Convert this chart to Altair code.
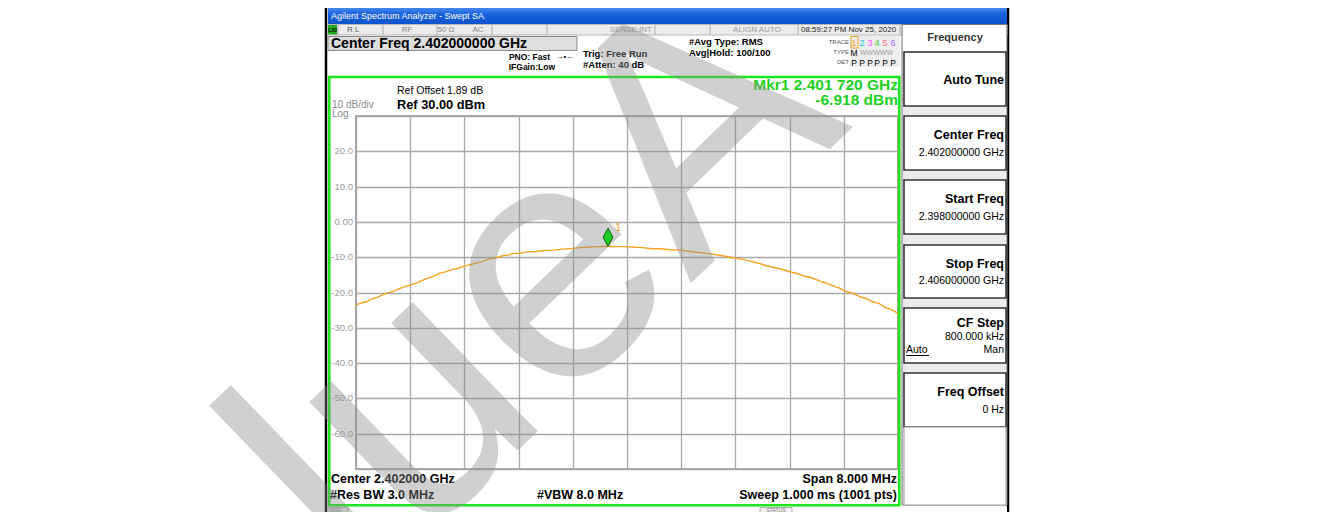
import altair as alt
import pandas as pd

FONT = "Liberation Sans"

# ---------------- data ----------------
freq_ghz = [2.39800, 2.39808, 2.39815, 2.39823, 2.39831, 2.39843, 2.39855, 2.39868, 2.39880, 2.39891,
            2.39902, 2.39913, 2.39924, 2.39933, 2.39942, 2.39950, 2.39959, 2.39971, 2.39983, 2.39995,
            2.40008, 2.40016, 2.40024, 2.40032, 2.40041, 2.40053, 2.40066, 2.40078, 2.40091, 2.40105,
            2.40120, 2.40132, 2.40145, 2.40158, 2.40172, 2.40186, 2.40200, 2.40212, 2.40224, 2.40236,
            2.40249, 2.40264, 2.40280, 2.40294, 2.40308, 2.40320, 2.40333, 2.40347, 2.40361, 2.40372,
            2.40382, 2.40394, 2.40407, 2.40424, 2.40442, 2.40452, 2.40463, 2.40474, 2.40485, 2.40494,
            2.40504, 2.40513, 2.40522, 2.40533, 2.40544, 2.40553, 2.40563, 2.40572, 2.40581, 2.40590,
            2.40600]
level_dbm = [-23.6, -22.9, -22.7, -21.8, -21.4, -20.3, -19.7, -18.6, -17.9, -17.2,
             -16.2, -15.5, -14.5, -14.1, -13.5, -13.2, -12.6, -12.0, -11.4, -10.6,
             -10.1, -9.6, -9.4, -9.0, -8.9, -8.5, -8.4, -8.1, -8.0, -7.7,
             -7.5, -7.3, -7.1, -7.0, -6.9, -7.0, -7.0, -7.2, -7.3, -7.6,
             -7.6, -7.9, -8.0, -8.4, -8.7, -9.0, -9.3, -9.8, -10.3, -10.6,
             -11.1, -11.7, -12.5, -13.2, -14.2, -14.7, -15.4, -15.9, -16.8, -17.3,
             -18.1, -18.7, -19.6, -20.2, -21.2, -21.7, -22.7, -23.1, -24.2, -24.8,
             -25.9]
marker_freq_ghz = [2.40172]
marker_level_dbm = [-6.918]
marker_label = ["1"]
x_ticks_ghz = [2.3980, 2.3988, 2.3996, 2.4004, 2.4012, 2.4020, 2.4028, 2.4036, 2.4044, 2.4052, 2.4060]
y_ticks_db = [30, 20, 10, 0, -10, -20, -30, -40, -50, -60, -70]
y_label_values = [20, 10, 0, -10, -20, -30, -40, -50, -60]
y_label_texts = ["20.0", "10.0", "0.00", "-10.0", "-20.0", "-30.0", "-40.0", "-50.0", "-60.0"]

trace = pd.DataFrame({"freq": freq_ghz, "level": level_dbm})
marker = pd.DataFrame({"freq": marker_freq_ghz, "level": marker_level_dbm, "label": marker_label})
ylabels = pd.DataFrame({"level": y_label_values, "label": y_label_texts})

# ---------------- geometry (page pixels) ----------------
OX, OY = 356, 116   # plot area origin on the page
PW, PH = 542, 353
ONE = alt.Data(values=[{"k": 0}])


def X(px):
    return px - OX


def Y(py):
    return py - OY


def txt(s, px, py, size=10, weight="normal", color="#000000", align="left", baseline="middle",
        font=FONT, angle=None, opacity=None):
    kw = dict(text=s, fontSize=size, fontWeight=weight, color=color, align=align,
              baseline=baseline, font=font)
    if angle is not None:
        kw["angle"] = angle
    if opacity is not None:
        kw["opacity"] = opacity
    return alt.Chart(ONE).mark_text(**kw).encode(x=alt.value(X(px)), y=alt.value(Y(py)))


def box(x1, y1, x2, y2, fill=None, stroke=None, sw=1.0):
    kw = {}
    if fill is not None:
        kw["fill"] = fill
    else:
        kw["fillOpacity"] = 0
    if stroke is not None:
        kw["stroke"] = stroke
        kw["strokeWidth"] = sw
    return alt.Chart(ONE).mark_rect(**kw).encode(
        x=alt.value(X(x1)), x2=alt.value(X(x2)), y=alt.value(Y(y1)), y2=alt.value(Y(y2)))


def vline(px, y1, y2, color="#000000", sw=1.0):
    return alt.Chart(ONE).mark_rule(color=color, strokeWidth=sw).encode(
        x=alt.value(X(px)), y=alt.value(Y(y1)), y2=alt.value(Y(y2)))


def hline(py, x1, x2, color="#000000", sw=1.0):
    return alt.Chart(ONE).mark_rule(color=color, strokeWidth=sw).encode(
        y=alt.value(Y(py)), x=alt.value(X(x1)), x2=alt.value(X(x2)))


layers = []

# screenshot edges
layers.append(vline(326, 0, 530, "#000000", 2.5))
layers.append(vline(1008, 0, 530, "#000000", 2.5))

# title bar
title_grad = alt.LinearGradient(gradient="linear", x1=0, x2=0, y1=0, y2=1,
                                stops=[alt.GradientStop(color="#5c9cf2", offset=0),
                                       alt.GradientStop(color="#1a64e0", offset=0.45),
                                       alt.GradientStop(color="#0b52c8", offset=1)])
layers.append(alt.Chart(ONE).mark_rect(fill=title_grad).encode(
    x=alt.value(X(328)), x2=alt.value(X(1007)), y=alt.value(Y(5)), y2=alt.value(Y(24.5))))
layers.append(txt("Agilent Spectrum Analyzer - Swept SA", 331, 15.5, 9, "normal", "#ffffff"))

# status row
layers.append(box(328, 24.5, 1007, 35, "#ececec", "#b8b8b8", 1))
for sx in [338, 383, 437, 492, 547, 655, 710, 798, 900]:
    layers.append(vline(sx, 24.5, 35, "#b0b0b0", 1))
layers.append(box(328, 25, 337, 34.5, "#1faa1f"))
layers.append(txt("LXI", 332.5, 30, 5.5, "bold", "#000000", "center"))
layers.append(txt("R L", 347, 30, 8, "normal", "#555555"))
layers.append(txt("RF", 407, 30, 8, "normal", "#888888", "center"))
layers.append(txt("50 Ω", 446, 30, 8, "normal", "#888888", "center"))
layers.append(txt("AC", 478, 30, 8, "normal", "#888888", "center"))
layers.append(txt("SENSE:INT", 652, 30, 8, "normal", "#999999", "right"))
layers.append(txt("ALIGN AUTO", 757, 30, 8, "normal", "#999999", "center"))
layers.append(txt("08:59:27 PM Nov 25, 2020", 801, 30, 8, "normal", "#222222"))

# header texts
layers.append(box(328, 36.5, 577, 50.5, "#dedede", "#8a8a8a", 1))
layers.append(txt("Center Freq 2.402000000 GHz", 331, 44, 14, "bold"))
layers.append(txt("PNO: Fast", 550, 57, 8.5, "bold", "#000000", "right"))
layers.append(txt("→•←", 565, 57, 8, "normal", "#000000", "center"))
layers.append(txt("IFGain:Low", 555, 67, 8.5, "bold", "#000000", "right"))
layers.append(txt("Trig: Free Run", 583, 53.5, 9.5, "bold"))
layers.append(txt("#Atten: 40 dB", 583, 64.5, 9.5, "bold"))
layers.append(txt("#Avg Type: RMS", 689, 42, 9.5, "bold"))
layers.append(txt("Avg|Hold: 100/100", 689, 53, 9.5, "bold"))
layers.append(box(850, 36, 900, 67, "#eeeeee"))
layers.append(txt("TRACE", 849, 42, 6, "normal", "#555555", "right"))
layers.append(txt("TYPE", 849, 52, 6, "normal", "#555555", "right"))
layers.append(txt("DET", 849, 62, 6, "normal", "#555555", "right"))
trace_cols = ["#f0a020", "#20c0e0", "#ff50ff", "#40cc40", "#ff6a80", "#9a70ff"]
for i, cx in enumerate([854, 862, 870, 877, 885, 893]):
    layers.append(txt(str(i + 1), cx, 42.5, 9, "normal", trace_cols[i], "center"))
    layers.append(txt("P", cx, 62.5, 8.5, "normal", "#000000", "center"))
layers.append(box(851, 36.5, 858, 48, None, "#f0a020", 1))
layers.append(txt("M", 854, 52.5, 8.5, "normal", "#000000", "center"))
layers.append(txt("WWWWW", 860, 52.5, 7, "normal", "#9a9a9a"))

# right soft-key panel
layers.append(box(902, 24.5, 1007, 505, "#ebebeb", "#777777", 1))
layers.append(box(903, 25, 1006, 51, "#ffffff"))
layers.append(txt("Frequency", 955, 37.5, 11, "bold", "#333333", "center"))
keys = [(52, 106), (116, 170), (180, 234), (245, 298), (308, 363), (373, 427)]
for (ky1, ky2) in keys:
    layers.append(box(904, ky1, 1006, ky2, "#ffffff", "#333333", 1.6))
layers.append(box(904, 427, 1006, 505, "#ffffff", "#999999", 1))
layers.append(txt("Auto Tune", 1004, 80, 12.5, "bold", "#000000", "right"))
layers.append(txt("Center Freq", 1004, 135, 12.5, "bold", "#000000", "right"))
layers.append(txt("2.402000000 GHz", 1004, 153, 10.5, "normal", "#000000", "right"))
layers.append(txt("Start Freq", 1004, 199, 12.5, "bold", "#000000", "right"))
layers.append(txt("2.398000000 GHz", 1004, 217, 10.5, "normal", "#000000", "right"))
layers.append(txt("Stop Freq", 1004, 264, 12.5, "bold", "#000000", "right"))
layers.append(txt("2.406000000 GHz", 1004, 281, 10.5, "normal", "#000000", "right"))
layers.append(txt("CF Step", 1004, 323, 12.5, "bold", "#000000", "right"))
layers.append(txt("800.000 kHz", 1004, 337, 10.5, "normal", "#000000", "right"))
layers.append(txt("Auto", 906, 350, 10.5, "normal", "#000000"))
layers.append(hline(355.5, 906, 929, "#000000", 1))
layers.append(txt("Man", 1004, 350, 10.5, "normal", "#000000", "right"))
layers.append(txt("Freq Offset", 1004, 392, 12.5, "bold", "#000000", "right"))
layers.append(txt("0 Hz", 1004, 410, 10.5, "normal", "#000000", "right"))

# message bar
layers.append(box(328, 507, 1007, 530, "#ffffff"))
layers.append(box(328, 507.5, 348, 530, "#e6e6e6", "#b0b0b0", 1))
layers.append(txt("MSG", 330, 509.5, 5, "normal", "#777777"))
layers.append(box(760, 507.5, 792, 530, "#f0f0f0", "#b0b0b0", 1))
layers.append(txt("STATUS", 776, 509.5, 5, "normal", "#777777", "center"))

# green measurement frame
layers.append(box(329.3, 77, 899.3, 505.3, None, "#1ee61e", 2.6))

# trace with axes / grid (same axis definitions on every layer that uses the scales)
x_scale = alt.Scale(domain=[2.398, 2.406], nice=False, zero=False)
y_scale = alt.Scale(domain=[-70, 30], nice=False, zero=False)
x_axis = alt.Axis(values=x_ticks_ghz, labels=False, ticks=False, domain=False, grid=True,
                  gridColor="#a8a8a8", gridWidth=1.3, title="")
y_axis = alt.Axis(values=y_ticks_db, labels=False, ticks=False, domain=False, grid=True,
                  gridColor="#a8a8a8", gridWidth=1.3, title="")


def xe(field="freq:Q"):
    return alt.X(field, scale=x_scale, axis=x_axis)


def ye(field="level:Q"):
    return alt.Y(field, scale=y_scale, axis=y_axis)


layers.append(alt.Chart(trace).mark_line(color="#f6a21e", strokeWidth=1.4).encode(x=xe(), y=ye()))

# y tick labels drawn through the y scale
layers.append(alt.Chart(ylabels).mark_text(align="right", baseline="middle", fontSize=9.5, font=FONT,
                                           color="#9a9a9a").encode(
    x=alt.value(-3), y=ye(), text="label:N"))

# plot labels
layers.append(txt("10 dB/div", 332, 104.5, 10, "normal", "#8a8a8a"))
layers.append(txt("Log", 332, 114, 10, "normal", "#8a8a8a"))
layers.append(txt("Ref Offset 1.89 dB", 397, 91, 10.5, "normal", "#000000"))
layers.append(txt("Ref 30.00 dBm", 397, 104.5, 12.8, "bold", "#000000"))
layers.append(txt("Mkr1 2.401 720 GHz", 898, 85, 15.5, "bold", "#22d022", "right"))
layers.append(txt("-6.918 dBm", 898, 100, 15.5, "bold", "#22d022", "right"))
layers.append(txt("Center 2.402000 GHz", 331, 479, 12.5, "bold"))
layers.append(txt("#Res BW 3.0 MHz", 330, 495, 12.5, "bold"))
layers.append(txt("#VBW 8.0 MHz", 537, 495, 12.5, "bold"))
layers.append(txt("Span 8.000 MHz", 897, 479, 12.5, "bold", "#000000", "right"))
layers.append(txt("Sweep  1.000 ms (1001 pts)", 897, 495, 12.5, "bold", "#000000", "right"))

# watermark
layers.append(txt("lueA", 364, 599, 340, "normal", "#8c8c8c", "left", "alphabetic", FONT, 316, 0.4))

# marker drawn on top
layers.append(alt.Chart(marker).mark_point(shape="M0,-1L0.55,0L0,1L-0.55,0Z", size=324, filled=True,
                                           fill="#1fcf1f", stroke="#0b5e0b", strokeWidth=1,
                                           opacity=1, yOffset=-9).encode(x=xe(), y=ye()))
layers.append(alt.Chart(marker).mark_text(color="#e8961e", fontSize=11, font=FONT, dx=10, dy=-18,
                                          align="center").encode(x=xe(), y=ye(), text="label:N"))

chart = alt.layer(*layers).properties(
    width=PW, height=PH,
    padding={"left": OX - 8, "top": OY - 8, "right": 1315 - (OX - 8) - PW, "bottom": 504 - (OY - 8) - PH},
    autosize=alt.AutoSizeParams(type="none"),
).configure(font=FONT).configure_view(stroke="#8c8c8c", strokeWidth=1.6)

chart.save("out.html", embed_options={"renderer": "svg", "actions": False})
